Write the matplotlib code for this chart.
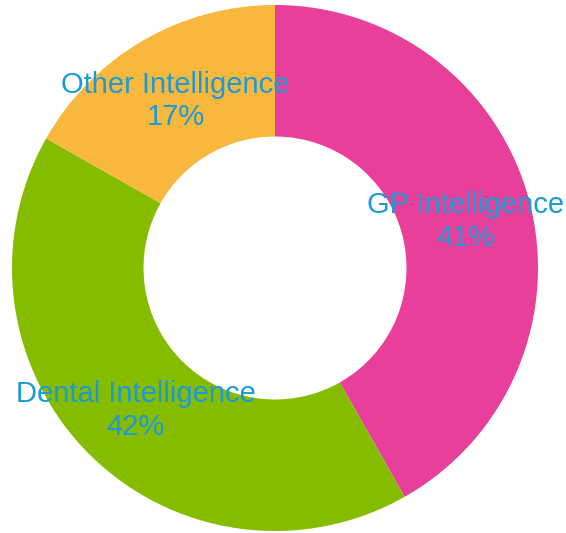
import numpy as np
import matplotlib.pyplot as plt

labels = ['GP Intelligence', 'Dental Intelligence', 'Other Intelligence']
# wedge sizes as drawn (measured from the angles), and the percent text as printed
shares = [41.8, 41.4, 16.8]
pct_text = ['41%', '42%', '17%']
colors = ['#E8409A', '#86BC00', '#F8B83E']

fig = plt.figure(figsize=(5.66, 5.33), dpi=100)
# centre (275, 268) px, outer radius ~263 px
ax = fig.add_axes([(275 - 263) / 566, (533 - 268 - 263) / 533, 526 / 566, 526 / 533])

wedges, _ = ax.pie(shares, colors=colors, startangle=90, counterclock=False,
                   radius=1.0, wedgeprops=dict(width=0.5, linewidth=0))

for w, lab, p in zip(wedges, labels, pct_text):
    ang = np.deg2rad((w.theta1 + w.theta2) / 2)
    r = 0.75
    # labels sit a few px below the ring midline in the reference
    ax.text(r * np.cos(ang), r * np.sin(ang) - 0.013, f'{lab}\n{p}', ha='center', va='center',
            color='#1A9AD6', fontsize=21, family='Liberation Sans', linespacing=1.22)

ax.set_xlim(-1, 1)
ax.set_ylim(-1, 1)
ax.set_aspect('equal')
ax.axis('off')
fig.savefig('out.png', dpi=100)
